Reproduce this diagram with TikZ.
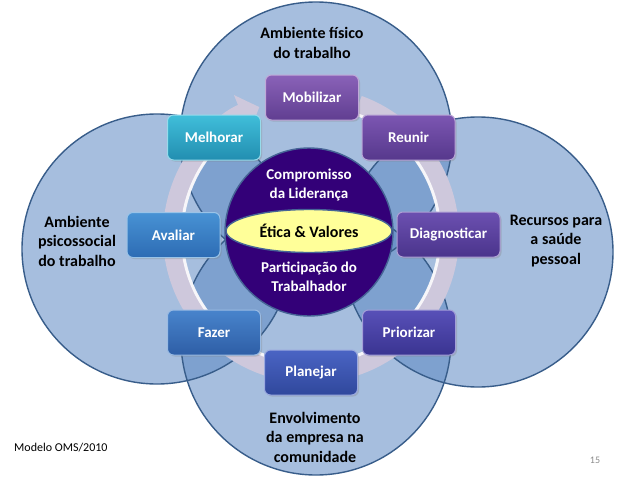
\documentclass[tikz,border=0pt]{standalone}
\usepackage{fontspec}
\setmainfont{Carlito}
\usetikzlibrary{arrows.meta,shadows,shapes.geometric}
\definecolor{circfill}{RGB}{94,138,195}
\definecolor{circline}{RGB}{56,93,138}
\definecolor{ringcol}{RGB}{206,200,220}
\definecolor{hubfill}{RGB}{51,0,120}
\definecolor{hubline}{RGB}{70,100,150}
\definecolor{ethfill}{RGB}{255,255,153}
\definecolor{pagegray}{RGB}{140,140,140}
\definecolor{moA}{RGB}{138,98,184}\definecolor{moB}{RGB}{96,62,145}
\definecolor{reA}{RGB}{124,86,178}\definecolor{reB}{RGB}{86,56,140}
\definecolor{diA}{RGB}{108,80,176}\definecolor{diB}{RGB}{74,52,140}
\definecolor{prA}{RGB}{88,80,184}\definecolor{prB}{RGB}{58,52,145}
\definecolor{plA}{RGB}{74,100,196}\definecolor{plB}{RGB}{48,72,156}
\definecolor{faA}{RGB}{72,132,204}\definecolor{faB}{RGB}{46,94,166}
\definecolor{avA}{RGB}{72,146,212}\definecolor{avB}{RGB}{45,108,180}
\definecolor{meA}{RGB}{64,190,218}\definecolor{meB}{RGB}{34,142,176}
\tikzset{
  bigfill/.style={fill=circfill, fill opacity=0.55},
  bigline/.style={draw=circline, line width=1.4pt},
  stepbox/.style 2 args={rounded corners=6pt, minimum width=93pt, minimum height=45pt,
    inner sep=2pt, top color=#1, bottom color=#2, draw=#1!55!white, line width=1pt,
    text=white, font=\bfseries\fontsize{15}{18}\selectfont,
    drop shadow={shadow xshift=1.5pt, shadow yshift=-1.5pt, opacity=0.3}},
  outerlbl/.style={align=center, font=\bfseries\fontsize{16}{19.5}\selectfont, text=black},
  hubtxt/.style={align=center, font=\bfseries\fontsize{15}{19}\selectfont, text=white}
}
\begin{document}
\begin{tikzpicture}[x=1pt,y=-1pt]
\fill[white] (0,0) rectangle (625,480);
\useasboundingbox (0,0) rectangle (625,480);
% big circles
\coordinate (ct) at (316,138);
\coordinate (cl) at (157,249);
\coordinate (cr) at (478,252);
\coordinate (cb) at (316,340);
\fill[bigfill] (ct) circle[radius=136];
\fill[bigfill] (cl) circle[radius=135];
\fill[bigfill] (cr) circle[radius=135];
\fill[bigfill] (cb) circle[radius=135];
\draw[bigline] (ct) circle[radius=136];
\draw[bigline] (cl) circle[radius=135];
\draw[bigline] (cr) circle[radius=135];
\draw[bigline] (cb) circle[radius=135];
% ring arrow
\coordinate (rc) at (311,235);
\draw[ringcol, line width=20pt, -{Triangle[width=40pt,length=19pt]}]
  (rc) ++(-70:138) arc[start angle=-70, end angle=248, radius=138];
\draw[white, line width=3pt, opacity=0.85]
  (rc) ++(-70:129) arc[start angle=-70, end angle=240, radius=129];
% hub
\node[circle, minimum size=168pt, inner sep=0pt, fill=hubfill, draw=hubline, line width=1.4pt] (hub) at (309,232) {};
\node[ellipse, minimum width=166pt, minimum height=43pt, inner sep=0pt, fill=ethfill, draw=hubline, line width=1.4pt] (eth) at (309,231) {};
\node[font=\bfseries\fontsize{16}{19}\selectfont, text=black] (ethtxt) at (eth) {Ética \& Valores};
\node[hubtxt] (comp) at (309,185) {Compromisso\\da Liderança};
\node[hubtxt] (part) at (309,277) {Participação do\\Trabalhador};
% step boxes
\node[stepbox={moA}{moB}] (mob) at (312,97.5) {Mobilizar};
\node[stepbox={reA}{reB}] (reu) at (408.5,137.5) {Reunir};
\node[stepbox={diA}{diB}, minimum width=103pt] (dia) at (448.5,234.5) {Diagnosticar};
\node[stepbox={prA}{prB}] (pri) at (409,332.5) {Priorizar};
\node[stepbox={plA}{plB}] (pla) at (311,372.5) {Planejar};
\node[stepbox={faA}{faB}] (faz) at (214,332.5) {Fazer};
\node[stepbox={avA}{avB}] (ava) at (173.5,235) {Avaliar};
\node[stepbox={meA}{meB}] (mel) at (214,137.5) {Melhorar};
% outer labels
\node[outerlbl] (lt) at (312,43) {Ambiente físico\\do trabalho};
\node[outerlbl] (ll) at (77,241) {Ambiente\\psicossocial\\do trabalho};
\node[outerlbl] (lr) at (556,241) {Recursos para\\a saúde\\pessoal};
\node[outerlbl] (lb) at (315,437) {Envolvimento\\da empresa na\\comunidade};
\node[font=\fontsize{12}{14}\selectfont, anchor=west, inner sep=0pt] (oms) at (14,448) {Modelo OMS/2010};
\node[font=\fontsize{10}{12}\selectfont, text=pagegray, inner sep=0pt] (pg) at (595,460) {15};
\end{tikzpicture}
\end{document}
